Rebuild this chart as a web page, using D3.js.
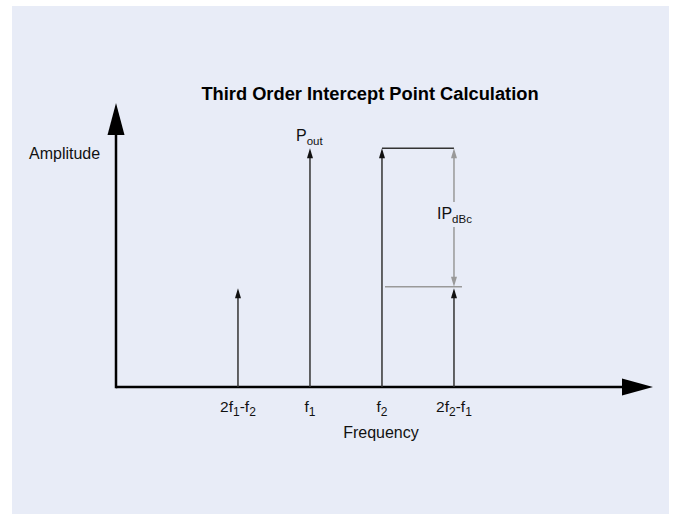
<!DOCTYPE html>
<html>
<head>
<meta charset="utf-8">
<script src="https://cdn.jsdelivr.net/npm/d3@7"></script>
<style>
  html, body { margin: 0; padding: 0; background: #fff; }
  svg { display: block; }
</style>
</head>
<body>
<div id="chart"></div>
<script>
'use strict'

// tones on the spectrum (f1 = 2, f2 = 3 in arbitrary units)
var toneNames = ['2f1-f2', 'f1', 'f2', '2f2-f1']
var toneFreqs = [1, 2, 3, 4]
var toneAmps = [0.414, 1, 1, 0.414]
// tick labels as [text, isSubscript] pieces
var tickLabels = [
  [['2f', 0], ['1', 1], ['-f', 0], ['2', 1]],
  [['f', 0], ['1', 1]],
  [['f', 0], ['2', 1]],
  [['2f', 0], ['2', 1], ['-f', 0], ['1', 1]]
]
var titleText = 'Third Order Intercept Point Calculation'
var xTitle = 'Frequency'
var yTitle = 'Amplitude'

var width = 673
var height = 514
var font = '"Liberation Sans", Arial, Helvetica, sans-serif'

var x = d3.scaleLinear().domain([-0.694, 6.764]).range([116, 653])
var y = d3.scaleLinear().domain([0, 1.19]).range([387, 103])

var svg = d3
  .select('#chart')
  .append('svg')
  .attr('width', width)
  .attr('height', height)

svg
  .append('rect')
  .attr('x', 12)
  .attr('y', 6)
  .attr('width', width - 16)
  .attr('height', height - 6)
  .attr('fill', '#e8ecf7')

function arrowHead(g, tx, ty, dir, len, half, color) {
  // dir: 'up', 'down', 'right'
  var pts
  if (dir === 'up') pts = [[tx, ty], [tx - half, ty + len], [tx + half, ty + len]]
  else if (dir === 'down') pts = [[tx, ty], [tx - half, ty - len], [tx + half, ty - len]]
  else pts = [[tx, ty], [tx - len, ty - half], [tx - len, ty + half]]
  g.append('path')
    .attr('d', d3.line()(pts) + 'Z')
    .attr('fill', color)
}

// axes
var axes = svg.append('g')
axes
  .append('line')
  .attr('x1', x(-0.694))
  .attr('x2', x(6.764) - 20)
  .attr('y1', y(0))
  .attr('y2', y(0))
  .attr('stroke', '#000')
  .attr('stroke-width', 2.5)
arrowHead(axes, x(6.764), y(0), 'right', 31, 8.5, '#000')

axes
  .append('line')
  .attr('x1', x(-0.694))
  .attr('x2', x(-0.694))
  .attr('y1', y(0) + 1.25)
  .attr('y2', y(1.19) + 20)
  .attr('stroke', '#000')
  .attr('stroke-width', 2.5)
arrowHead(axes, x(-0.694), y(1.19), 'up', 32, 8.5, '#000')

// spectral lines
var stems = svg.append('g')
toneFreqs.forEach(function(f, i) {
  stems
    .append('line')
    .attr('x1', x(f))
    .attr('x2', x(f))
    .attr('y1', y(0))
    .attr('y2', y(toneAmps[i]) + 6)
    .attr('stroke', '#333')
    .attr('stroke-width', 1.5)
  arrowHead(stems, x(f), y(toneAmps[i]), 'up', 10, 3, '#111')
})

// dimension between f2 and 2f2-f1
var dim = svg.append('g')
dim
  .append('line')
  .attr('x1', x(toneFreqs[2]))
  .attr('x2', x(toneFreqs[3]))
  .attr('y1', y(toneAmps[2]))
  .attr('y2', y(toneAmps[2]))
  .attr('stroke', '#333')
  .attr('stroke-width', 1.5)
dim
  .append('line')
  .attr('x1', x(toneFreqs[2]) + 3)
  .attr('x2', x(toneFreqs[3]) + 8)
  .attr('y1', y(toneAmps[3]) - 1.5)
  .attr('y2', y(toneAmps[3]) - 1.5)
  .attr('stroke', '#999')
  .attr('stroke-width', 1.5)

var topY = y(toneAmps[2])
var botY = y(toneAmps[3]) - 1.5
dim
  .append('line')
  .attr('x1', x(toneFreqs[3]))
  .attr('x2', x(toneFreqs[3]))
  .attr('y1', topY + 6)
  .attr('y2', 202)
  .attr('stroke', '#999')
  .attr('stroke-width', 1.5)
dim
  .append('line')
  .attr('x1', x(toneFreqs[3]))
  .attr('x2', x(toneFreqs[3]))
  .attr('y1', 227)
  .attr('y2', botY - 6)
  .attr('stroke', '#999')
  .attr('stroke-width', 1.5)
arrowHead(dim, x(toneFreqs[3]), topY, 'up', 10, 3, '#999')
arrowHead(dim, x(toneFreqs[3]), botY, 'down', 10, 3, '#999')

// text helper with subscripts
function subText(g, parts, px, py, anchor, size, subSize) {
  var t = g
    .append('text')
    .attr('x', px)
    .attr('y', py)
    .attr('text-anchor', anchor)
    .attr('font-family', font)
    .attr('font-size', size + 'px')
    .attr('fill', '#111')
  var wasSub = 0
  parts.forEach(function(p) {
    var dy = p[1] && !wasSub ? 4 : !p[1] && wasSub ? -4 : 0
    t.append('tspan')
      .attr('dy', dy)
      .attr('font-size', (p[1] ? subSize : size) + 'px')
      .text(p[0])
    wasSub = p[1]
  })
  return t
}

var labels = svg.append('g')
tickLabels.forEach(function(parts, i) {
  subText(labels, parts, x(toneFreqs[i]), 412, 'middle', 15.5, 12)
})

subText(labels, [['P', 0], ['out', 1]], x(toneFreqs[1]) - 14, 141, 'start', 16, 11.5)
subText(labels, [['IP', 0], ['dBc', 1]], x(toneFreqs[3]) - 17, 219, 'start', 16, 11.5)

labels
  .append('text')
  .attr('x', x(toneFreqs[2]) - 1)
  .attr('y', 438)
  .attr('text-anchor', 'middle')
  .attr('font-family', font)
  .attr('font-size', '16px')
  .attr('fill', '#111')
  .text(xTitle)

labels
  .append('text')
  .attr('x', 29)
  .attr('y', 159)
  .attr('font-family', font)
  .attr('font-size', '16px')
  .attr('fill', '#111')
  .text(yTitle)

svg
  .append('text')
  .attr('x', 370)
  .attr('y', 100)
  .attr('text-anchor', 'middle')
  .attr('font-family', font)
  .attr('font-size', '18.3px')
  .attr('font-weight', 'bold')
  .attr('fill', '#000')
  .text(titleText)
</script>
</body>
</html>
